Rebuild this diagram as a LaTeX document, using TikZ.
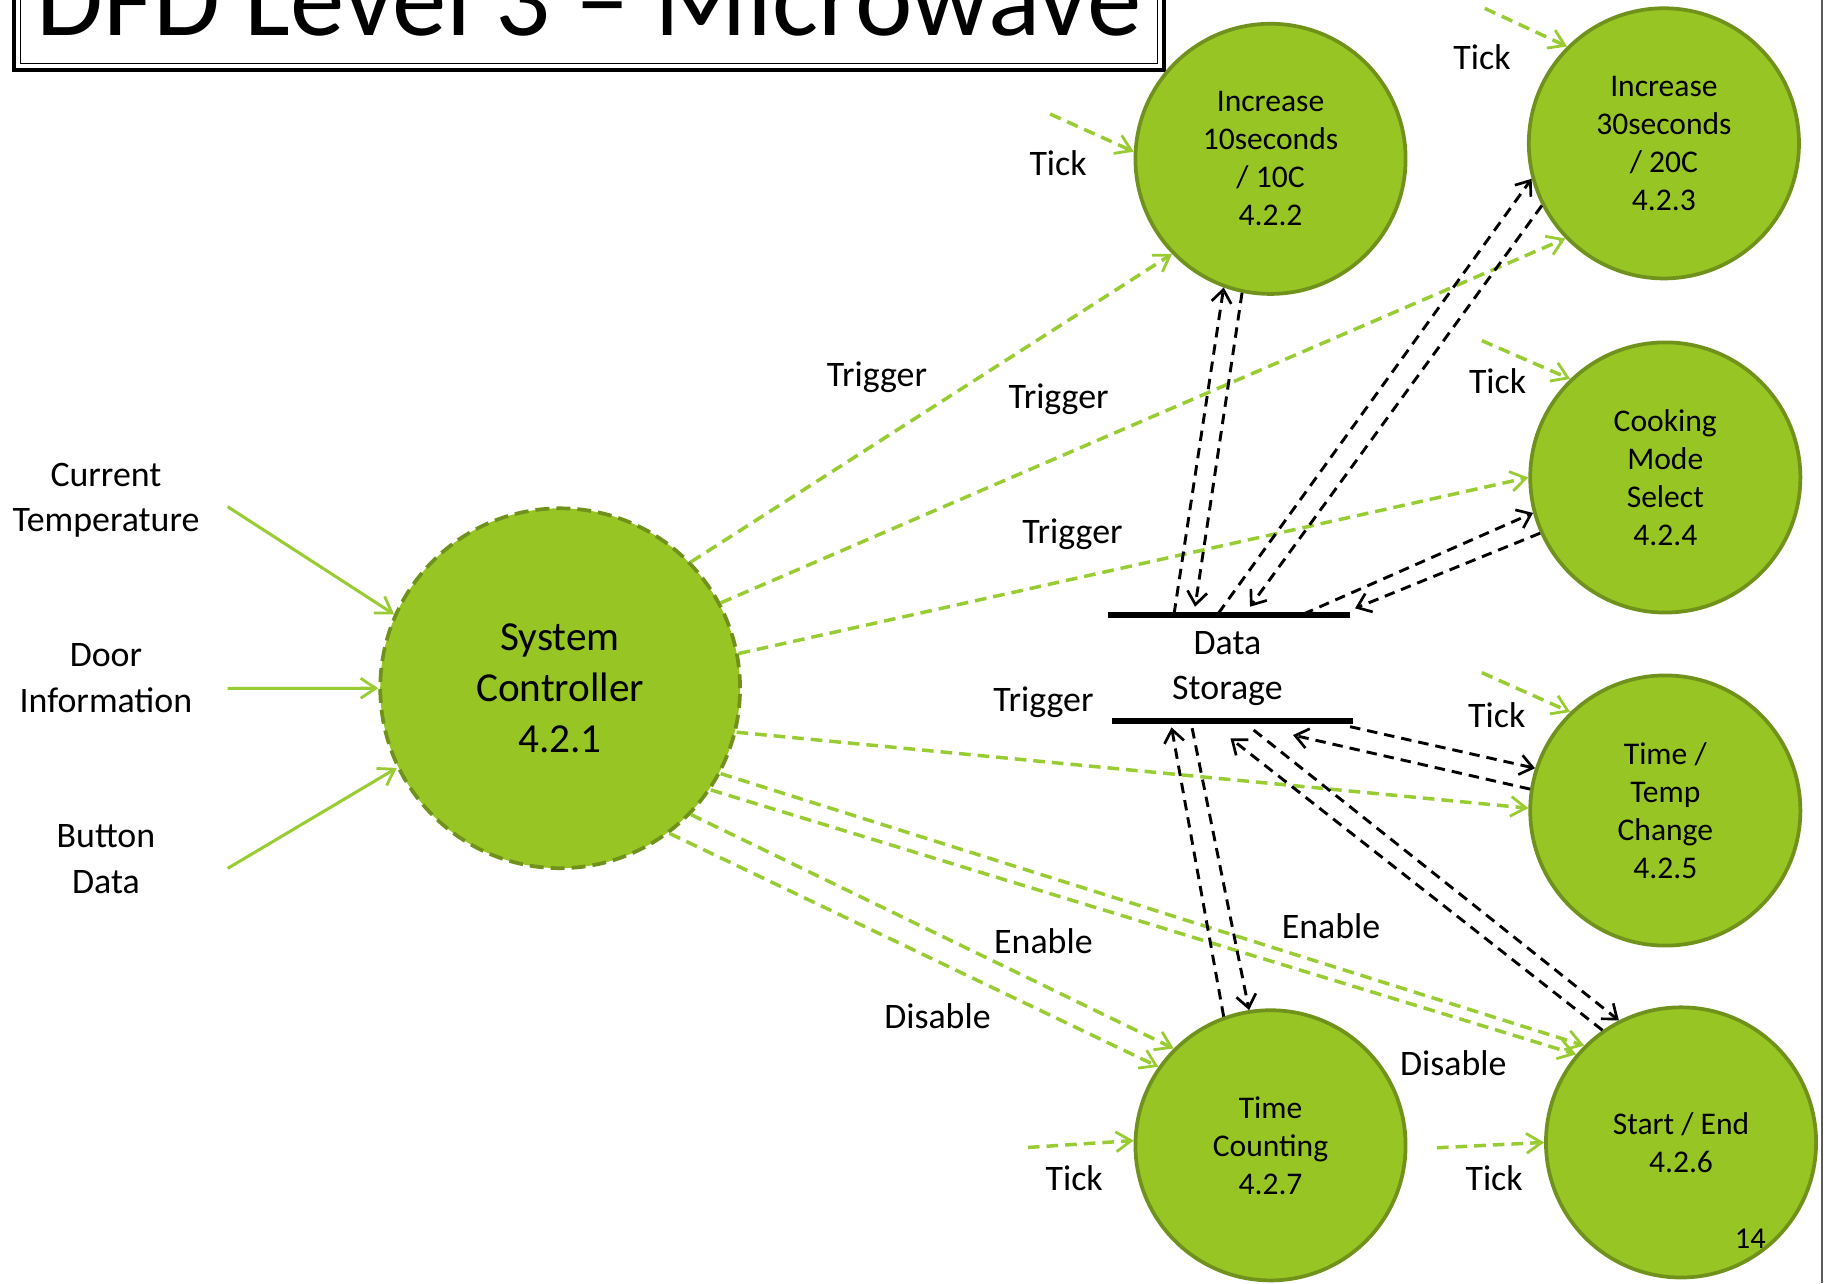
\documentclass[tikz,border=0pt]{standalone}
\usepackage{fontspec}
\setmainfont{Carlito}
\usetikzlibrary{arrows.meta}

\definecolor{bubble}{RGB}{151,197,35}
\definecolor{bubbleedge}{RGB}{112,146,28}
\definecolor{flow}{RGB}{153,204,51}

\tikzset{
  proc/.style={circle, fill=bubble, draw=bubbleedge, line width=3.2pt,
    minimum size=232pt, inner sep=0pt, align=center,
    font=\fontsize{27.1}{32.6}\selectfont},
  ctrl/.style={proc, minimum size=309pt, dash pattern=on 12pt off 6pt,
    font=\fontsize{35.4}{43.6}\selectfont},
  lbl/.style={inner sep=0pt, anchor=base, font=\fontsize{30.8}{39.2}\selectfont},
  ext/.style={inner sep=0pt, align=center, font=\fontsize{30.8}{39.2}\selectfont},
  barb/.style={-{Straight Barb[length=13pt,width=17pt,line width=2.4pt]}},
  inflow/.style={draw=flow, line width=2.6pt, barb},
  ctlflow/.style={draw=flow, line width=3pt, dash pattern=on 10pt off 6pt, barb},
  dataflow/.style={draw=black, line width=2.5pt, dash pattern=on 9pt off 6pt,
    -{Straight Barb[length=11pt,width=17pt,line width=2.3pt]}},
  store/.style={line width=5pt, draw=black}
}

\begin{document}
\begin{tikzpicture}[x=1pt,y=-1pt]
\useasboundingbox (0,0) rectangle (1568,1102);
\clip (0,0) rectangle (1568,1102);

% title frame
\draw[line width=4pt] (12,-60) rectangle (999.5,60);
\draw[line width=1.3pt] (17.5,-60) rectangle (994,54.5);
\node[inner sep=0pt, anchor=base, font=\fontsize{93.5}{110}\selectfont] (title)
  at (505.5,30.6) {DFD Level 3 -- Microwave};

% slide edge
\draw[line width=2pt, black!65] (1564.5,0) -- (1564.5,1102);

% processes
\node[ctrl] (sc) at (481,591) {System\\Controller\\4.2.1};
\node[proc] (p2) at (1091,136.4) {Increase\\10seconds\\/ 10C\\4.2.2};
\node[proc] (p3) at (1428.8,123.1) {Increase\\30seconds\\/ 20C\\4.2.3};
\node[proc] (p4) at (1430,410) {Cooking\\Mode\\Select\\4.2.4};
\node[proc] (p5) at (1430,696) {Time /\\Temp\\Change\\4.2.5};
\node[proc] (p6) at (1443.5,981) {Start / End\\4.2.6};
\node[proc] (p7) at (1091,983.5) {Time\\Counting\\4.2.7};

\node[inner sep=0pt, anchor=base, font=\fontsize{26}{30}\selectfont] (pgno)
  at (1503,1072) {14};

% data store
\coordinate (sta) at (951.5,528);
\coordinate (stb) at (1159,528);
\coordinate (sba) at (955,619);
\coordinate (sbb) at (1161.5,619);
\draw[store] (sta) -- (stb);
\draw[store] (sba) -- (sbb);
\node[ext] (ds) at (1054,574) {Data\\Storage};

% external inputs
\node[ext] (curtemp) at (91,429.5) {Current\\Temperature};
\node[ext] (door) at (91,582.3) {Door\\Information};
\node[ext] (button) at (91,737.8) {Button\\Data};
\coordinate (inT) at (195.5,435.1);
\coordinate (inD) at (195.5,591.1);
\coordinate (inB) at (195.5,745.7);
\draw[inflow] (inT) -- (sc.156);
\draw[inflow] (inD) -- (sc.180);
\draw[inflow] (inB) -- (sc.206.6);

% triggers, enable and disable
\draw[ctlflow] (sc.44.2) -- (p2.224.6);
\draw[ctlflow] (sc.28.6) -- (p3.224.8);
\draw[ctlflow] (sc.11.3) -- (p4.180.3);
\draw[ctlflow] (sc.-14.6) -- (p5.179);
\draw[ctlflow] (sc.-28) -- (p6.135);
\draw[ctlflow] (sc.-34) -- (p6.140.8);
\draw[ctlflow] (sc.-44.8) -- (p7.135.5);
\draw[ctlflow] (sc.-53.7) -- (p7.145.4);

% clock ticks
\coordinate (t2) at (901.7,97.9);
\coordinate (t3) at (1275,7.2);
\coordinate (t4) at (1272.4,292.5);
\coordinate (t5) at (1272.4,577.6);
\coordinate (t7) at (882.7,985.3);
\coordinate (t6) at (1233.9,985.6);
\draw[ctlflow] (t2) -- (p2.177.7);
\draw[ctlflow] (t3) -- (p3.135.7);
\draw[ctlflow] (t4) -- (p4.134.8);
\draw[ctlflow] (t5) -- (p5.134.9);
\draw[ctlflow] (t7) -- (p7.178.5);
\draw[ctlflow] (t6) -- (p6.180);

% data store access points
\coordinate (s2o) at (1008.2,527);
\coordinate (s2i) at (1026.2,521);
\coordinate (s3o) at (1046.2,526.7);
\coordinate (s3i) at (1073.4,521);
\coordinate (s4o) at (1119.2,527.3);
\coordinate (s4i) at (1163.6,522.4);
\coordinate (s5o) at (1159.3,624);
\coordinate (s5i) at (1110.3,631.2);
\coordinate (s6o) at (1076.5,626.9);
\coordinate (s6i) at (1056.6,634);
\coordinate (s7o) at (1023.7,625.3);
\coordinate (s7i) at (1006,624.6);

% reads and writes
\draw[dataflow] (s2o) -- (p2.250.4);
\draw[dataflow] (p2.258.8) -- (s2i);
\draw[dataflow] (s3o) -- (p3.195.5);
\draw[dataflow] (p3.207.3) -- (s3i);
\draw[dataflow] (s4o) -- (p4.195.7);
\draw[dataflow] (p4.204.3) -- (s4i);
\draw[dataflow] (s5o) -- (p5.162.3);
\draw[dataflow] (p5.171.3) -- (s5i);
\draw[dataflow] (s6o) -- (p6.117.3);
\draw[dataflow] (p6.125.9) -- (s6i);
\draw[dataflow] (s7o) -- (p7.99.2);
\draw[dataflow] (p7.110.4) -- (s7i);

% flow labels
\node[lbl] (lt2) at (908.6,150.3) {Tick};
\node[lbl] (lt3) at (1272.6,60.1) {Tick};
\node[lbl] (lt4) at (1286,338.3) {Tick};
\node[lbl] (lt5) at (1285.3,624.6) {Tick};
\node[lbl] (lt7) at (922.4,1021.9) {Tick};
\node[lbl] (lt6) at (1283,1022) {Tick};
\node[lbl] (lg2) at (753,332) {Trigger};
\node[lbl] (lg3) at (909,351) {Trigger};
\node[lbl] (lg4) at (921,467) {Trigger};
\node[lbl] (lg5) at (896,611) {Trigger};
\node[lbl] (le7) at (896,818.7) {Enable};
\node[lbl] (le6) at (1143,805.8) {Enable};
\node[lbl] (ld7) at (805,883.1) {Disable};
\node[lbl] (ld6) at (1248,923.6) {Disable};
\end{tikzpicture}
\end{document}
